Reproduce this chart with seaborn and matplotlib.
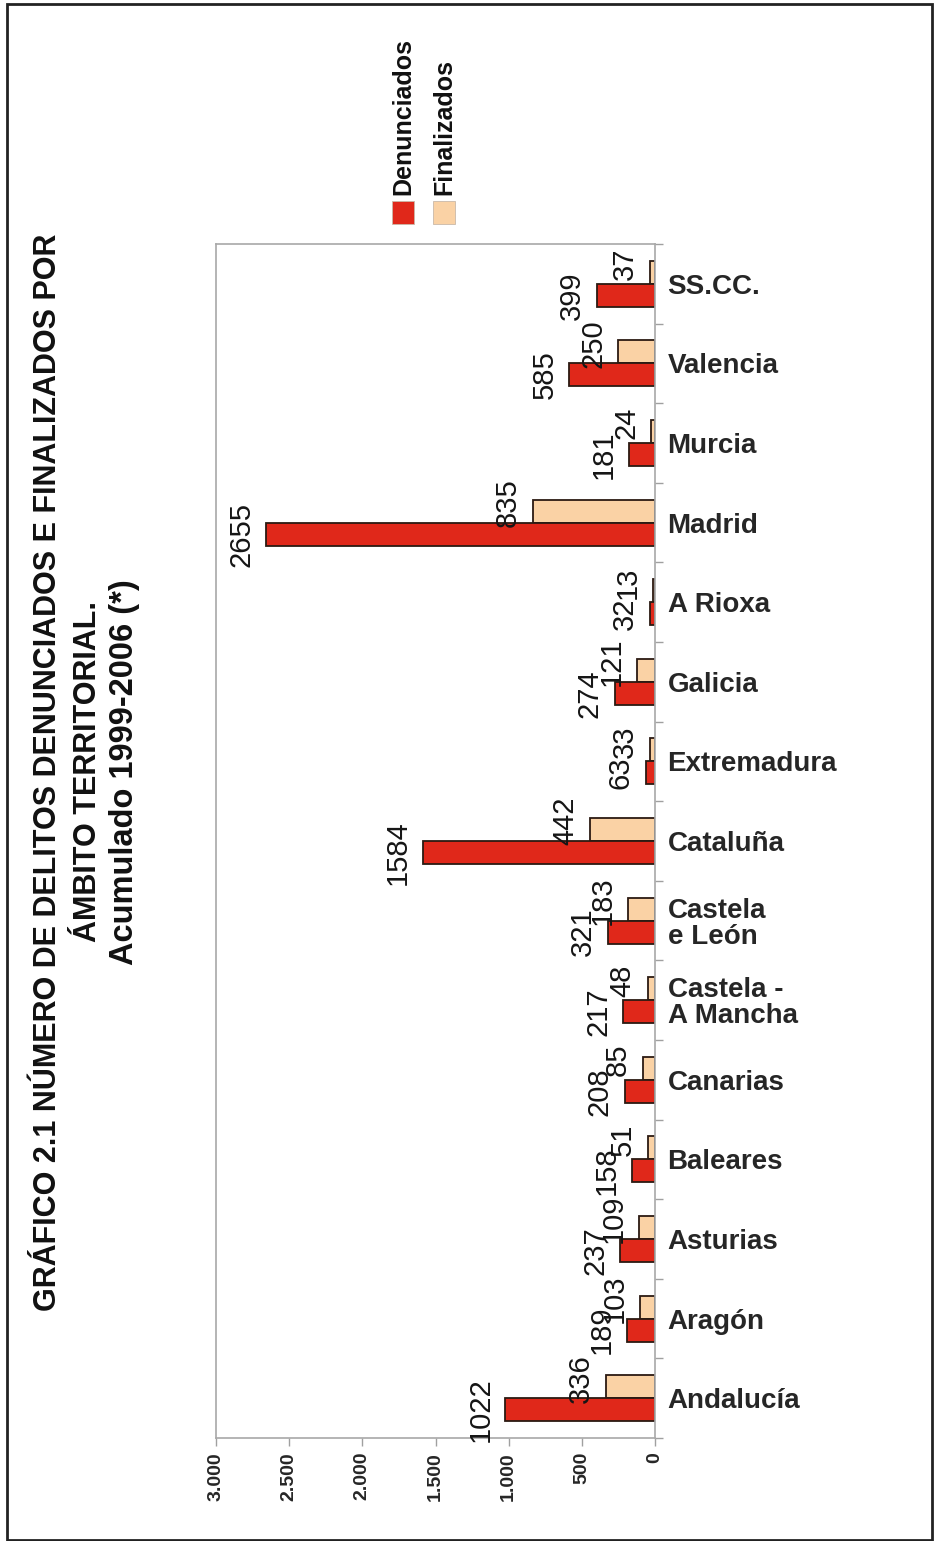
import matplotlib
matplotlib.use("Agg")
import matplotlib.pyplot as plt
import seaborn as sns
import pandas as pd
import numpy as np
from matplotlib.patches import Rectangle
from matplotlib.ticker import FuncFormatter

# Data: regions (top to bottom), crimes reported and crimes closed, 1999-2006
regions = ["SS.CC.", "Valencia", "Murcia", "Madrid", "A Rioxa", "Galicia",
           "Extremadura", "Cataluña", "Castela\ne León", "Castela -\nA Mancha",
           "Canarias", "Baleares", "Asturias", "Aragón", "Andalucía"]
denunciados = [399, 585, 181, 2655, 32, 274, 63, 1584, 321, 217, 208, 158, 237, 189, 1022]
finalizados = [37, 250, 24, 835, 13, 121, 33, 442, 183, 48, 85, 51, 109, 103, 336]
series = ["Finalizados", "Denunciados"]
value_ticks = [0, 500, 1000, 1500, 2000, 2500, 3000]

title_lines = ["GRÁFICO 2.1 NÚMERO DE DELITOS DENUNCIADOS E FINALIZADOS POR",
               "ÁMBITO TERRITORIAL.",
               "Acumulado 1999-2006 (*)"]

sns.set_theme(style="white")
plt.rcParams["font.family"] = ["Liberation Sans", "DejaVu Sans"]

df = pd.DataFrame({
    "Región": regions * 2,
    "Serie": ["Denunciados"] * len(regions) + ["Finalizados"] * len(regions),
    "Valor": denunciados + finalizados,
})

W, H = 940, 1541
fig = plt.figure(figsize=(W / 100, H / 100), dpi=100)
ax = fig.add_axes([216 / W, 103 / H, (655 - 216) / W, (1438 - 244) / H])

palette = {"Denunciados": "#E0281A", "Finalizados": "#FAD2A5"}
sns.barplot(data=df, y="Región", x="Valor", hue="Serie", order=regions,
            hue_order=series, palette=palette, width=0.58, orient="h",
            edgecolor="#2b1a12", linewidth=1.3, saturation=1,
            legend=False, ax=ax)

ax.set_xlim(3000, 0)
ax.set_ylim(len(regions) - 0.5, -0.5)
ax.set_xlabel("")
ax.set_ylabel("")

# value axis
ax.set_xticks(value_ticks)
ax.xaxis.set_major_formatter(FuncFormatter(lambda v, p: f"{v:,.0f}".replace(",", ".")))
ax.tick_params(axis="x", bottom=True, direction="out", length=6, width=1,
               color="#a0a0a0", labelsize=14, pad=4, labelrotation=90)
for t in ax.get_xticklabels():
    t.set_fontweight("bold")

# category axis on the right, ticks between groups
ax.yaxis.tick_right()
ax.set_yticks(np.arange(-0.5, len(regions), 1), minor=True)
ax.tick_params(axis="y", which="major", length=0, pad=9, labelsize=20,
               left=False, right=False)
ax.tick_params(axis="y", which="minor", length=6, width=1, color="#a0a0a0",
               right=True, left=False, direction="out")
for t in ax.get_yticklabels():
    t.set_fontweight("bold")
    t.set_horizontalalignment("left")
    t.set_linespacing(1.0)

for s in ax.spines.values():
    s.set_visible(True)
    s.set_color("#a8a8a8")
    s.set_linewidth(1.2)

# value labels, rotated like the rest of the chart
for container, values, dy in zip(ax.containers, [finalizados, denunciados], [6, 0]):
    for bar, v in zip(container.patches, values):
        yc = bar.get_y() + bar.get_height() / 2
        ax.annotate(str(v), xy=(v, yc), xytext=(-8, dy), textcoords="offset points",
                    rotation=90, ha="right", va="center", fontsize=21,
                    color="#151515", annotation_clip=False)

# title, rotated on the left
for xpx, line, size in zip([48, 88, 124], title_lines, [22, 22, 23.5]):
    fig.text(xpx / W, 1 - 772 / H, line, rotation=90, ha="center", va="center",
             fontsize=size, fontweight="bold", color="#111111")

# legend swatches and rotated labels
for xpx, name in zip([392, 433], ["Denunciados", "Finalizados"]):
    fig.patches.append(Rectangle((xpx / W, 1 - 224 / H), 22 / W, 23 / H,
                                 transform=fig.transFigure, facecolor=palette[name],
                                 edgecolor="#c9b9a9", linewidth=0.6))
    fig.text((xpx + 11) / W, 1 - 195 / H, name, rotation=90, ha="center", va="bottom",
             fontsize=18, fontweight="bold", color="#111111")

# outer frame
fig.patches.append(Rectangle((7 / W, 1 / H), (932 - 7) / W, (1537 - 1) / H,
                             transform=fig.transFigure, fill=False,
                             edgecolor="#222222", linewidth=2))

fig.savefig("out.png", dpi=100)
